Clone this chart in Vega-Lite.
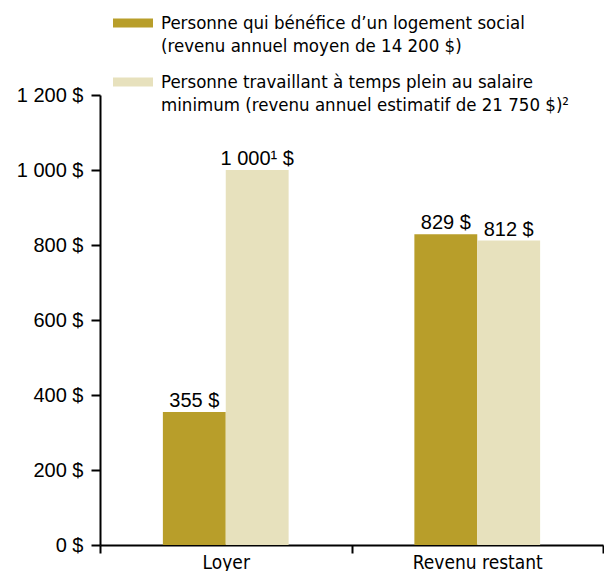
{
  "$schema": "https://vega.github.io/schema/vega-lite/v6.json",
  "width": 503,
  "height": 450,
  "autosize": {"type": "none"},
  "padding": {"left": 100, "top": 95, "right": 1, "bottom": 26},
  "background": "white",
  "data": {
    "values": [
      {"poste": "Loyer", "personne": "Personne qui bénéfice d’un logement social (revenu annuel moyen de 14 200 $)", "montant": 355, "note": ""},
      {"poste": "Loyer", "personne": "Personne travaillant à temps plein au salaire minimum (revenu annuel estimatif de 21 750 $)²", "montant": 1000, "note": "¹"},
      {"poste": "Revenu restant", "personne": "Personne qui bénéfice d’un logement social (revenu annuel moyen de 14 200 $)", "montant": 829, "note": ""},
      {"poste": "Revenu restant", "personne": "Personne travaillant à temps plein au salaire minimum (revenu annuel estimatif de 21 750 $)²", "montant": 812, "note": ""}
    ]
  },
  "transform": [
    {"calculate": "replace(format(datum.montant, ','), ',', ' ') + datum.note + ' $'", "as": "etiquette"}
  ],
  "encoding": {
    "x": {
      "field": "poste",
      "type": "nominal",
      "sort": ["Loyer", "Revenu restant"],
      "scale": {"paddingInner": 0, "paddingOuter": 0},
      "axis": {
        "title": null,
        "labelAngle": 0,
        "tickBand": "extent",
        "domainColor": "black",
        "domainWidth": 2,
        "tickColor": "black",
        "tickWidth": 2,
        "tickSize": 8,
        "labelFont": "DejaVu Sans Condensed",
        "labelFontSize": 19,
        "labelColor": "black",
        "labelPadding": 0
      }
    },
    "xOffset": {
      "field": "personne",
      "type": "nominal",
      "sort": [
        "Personne qui bénéfice d’un logement social (revenu annuel moyen de 14 200 $)",
        "Personne travaillant à temps plein au salaire minimum (revenu annuel estimatif de 21 750 $)²"
      ],
      "scale": {"paddingInner": 0, "paddingOuter": 1}
    },
    "y": {
      "field": "montant",
      "type": "quantitative",
      "scale": {"domain": [0, 1200]},
      "axis": {
        "title": null,
        "grid": false,
        "values": [0, 200, 400, 600, 800, 1000, 1200],
        "labelExpr": "replace(format(datum.value, ','), ',', ' ') + ' $'",
        "domainColor": "black",
        "domainWidth": 2,
        "tickColor": "black",
        "tickWidth": 2,
        "tickSize": 9,
        "labelFont": "Liberation Sans",
        "labelFontSize": 20,
        "labelColor": "black",
        "labelPadding": 8
      }
    }
  },
  "layer": [
    {
      "mark": {"type": "bar"},
      "encoding": {
        "color": {
          "field": "personne",
          "type": "nominal",
          "sort": [
            "Personne qui bénéfice d’un logement social (revenu annuel moyen de 14 200 $)",
            "Personne travaillant à temps plein au salaire minimum (revenu annuel estimatif de 21 750 $)²"
          ],
          "scale": {"range": ["#b89e2a", "#e7e1bd"]},
          "legend": {
            "orient": "none",
            "legendX": 13,
            "legendY": -92,
            "title": null,
            "padding": 0,
            "symbolType": "M-1,-0.225H1V0.225H-1Z",
            "symbolSize": 1600,
            "symbolStrokeWidth": 0,
            "symbolOpacity": 1,
            "labelFont": "DejaVu Sans Condensed",
            "labelFontSize": 18.5,
            "labelColor": "black",
            "labelLimit": 600,
            "labelOffset": 8,
            "rowPadding": 6,
            "labelExpr": "indexof(datum.value, 'social') >= 0 ? ['Personne qui bénéfice d’un logement social', '(revenu annuel moyen de 14 200 $)'] : ['Personne travaillant à temps plein au salaire', 'minimum (revenu annuel estimatif de 21 750 $)²']"
          }
        }
      }
    },
    {
      "mark": {
        "type": "text",
        "font": "Liberation Sans",
        "fontSize": 20,
        "color": "black",
        "align": "center",
        "baseline": "alphabetic",
        "dy": -5
      },
      "encoding": {
        "text": {"field": "etiquette", "type": "nominal"}
      }
    }
  ],
  "config": {
    "view": {"stroke": null},
    "style": {"guide-label": {"lineHeight": 23}}
  }
}
